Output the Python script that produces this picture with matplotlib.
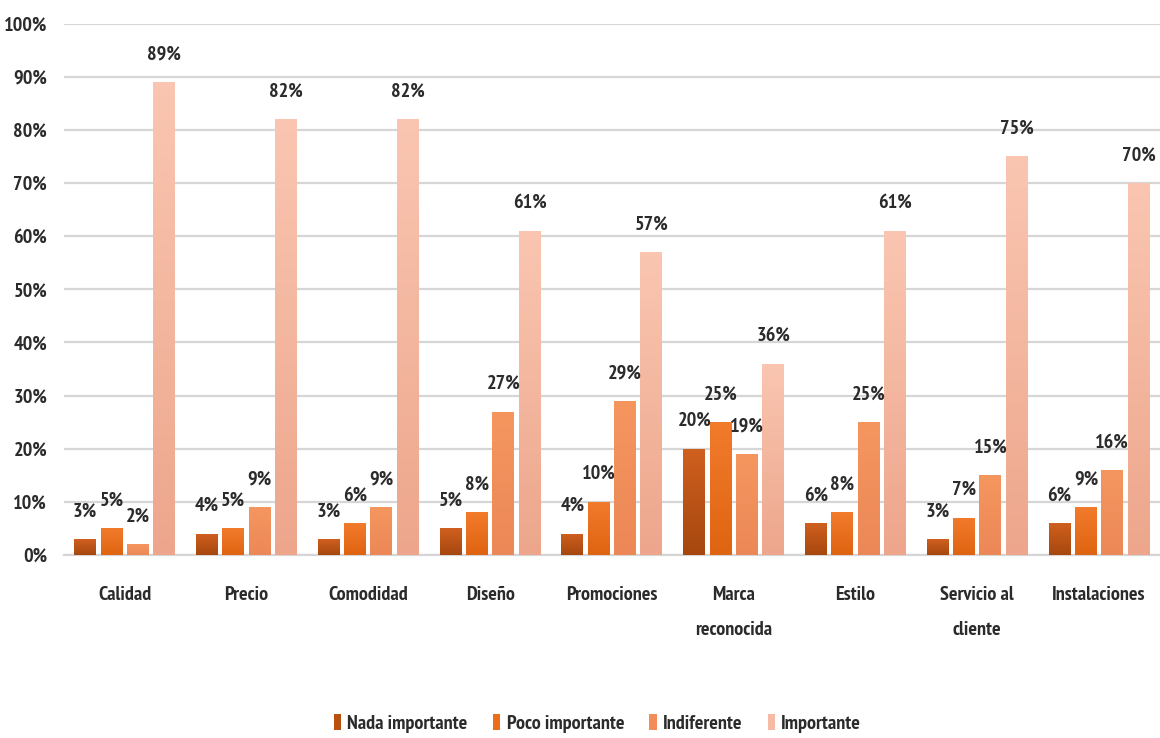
import numpy as np
import matplotlib
matplotlib.use("Agg")
import matplotlib.pyplot as plt
from matplotlib import font_manager
from matplotlib.colors import LinearSegmentedColormap

categories = ["Calidad", "Precio", "Comodidad", "Diseño", "Promociones",
              "Marca\nreconocida", "Estilo", "Servicio al\ncliente", "Instalaciones"]
series_names = ["Nada importante", "Poco importante", "Indiferente", "Importante"]
nada_importante = [3, 4, 3, 5, 4, 20, 6, 3, 6]
poco_importante = [5, 5, 6, 8, 10, 25, 8, 7, 9]
indiferente = [2, 9, 9, 27, 29, 19, 25, 15, 16]
importante = [89, 82, 82, 61, 57, 36, 61, 75, 70]
yticks = [0, 10, 20, 30, 40, 50, 60, 70, 80, 90, 100]

series_values = [nada_importante, poco_importante, indiferente, importante]
# (top colour, bottom colour) for each series' vertical shading
shades = [("#D0601F", "#A6470F"),
          ("#F27B2C", "#DF6411"),
          ("#F5965F", "#EC8857"),
          ("#FAC6B1", "#EDA68C")]
legend_colors = ["#B9500F", "#EC6E1A", "#F28C5A", "#F6BBA4"]

# pick a narrow bold sans family
bold_fams = {f.name for f in font_manager.fontManager.ttflist if f.weight >= 600}
preferred = ["PT Sans Narrow", "Open Sans Condensed", "Roboto Condensed",
             "Fira Sans Condensed", "Barlow Semi Condensed", "Archivo Narrow",
             "Encode Sans Semi Condensed", "Saira SemiCondensed"]
family = next((f for f in preferred if f in bold_fams), "DejaVu Sans")
plt.rcParams["font.family"] = [family, "DejaVu Sans"]
text_color = "#2B2B2B"
fs = 14.5 if family != "DejaVu Sans" else 11.5

fig = plt.figure(figsize=(11.6, 7.38), dpi=100)
ax = fig.add_axes([0.055, 0.248, 0.945, 0.72])

x = np.arange(len(categories))
step = 0.216
width = 0.18
offsets = (np.arange(4) - 1.5) * step

for i, vals in enumerate(series_values):
    bars = ax.bar(x + offsets[i], vals, width, color=legend_colors[i],
                  label=series_names[i], zorder=3)
    cmap = LinearSegmentedColormap.from_list(f"s{i}", [shades[i][1], shades[i][0]])
    grad = np.linspace(0, 1, 256).reshape(-1, 1)
    for b, v in zip(bars, vals):
        x0, y0 = b.get_x(), b.get_y()
        w, h = b.get_width(), b.get_height()
        im = ax.imshow(grad, cmap=cmap, origin="lower", aspect="auto",
                       extent=[x0, x0 + w, y0, y0 + h], zorder=3.5,
                       interpolation="bilinear")
        im.set_clip_path(b)
        ax.text(x0 + w / 2, v + 5.2, f"{v}%", ha="center", va="center",
                fontsize=fs, fontweight="bold", color=text_color, zorder=5)

ax.set_xlim(-0.5, len(categories) - 0.5)
ax.set_ylim(0, 100)
ax.set_yticks(yticks)
ax.set_yticklabels([f"{t}%" for t in yticks], fontsize=fs, fontweight="bold",
                   color=text_color)
ax.set_xticks(x)
ax.set_xticklabels(categories, fontsize=fs, fontweight="bold", color=text_color,
                   linespacing=2.25, va="top")
ax.tick_params(axis="both", length=0)
ax.tick_params(axis="x", pad=22)
ax.tick_params(axis="y", pad=12)
ax.grid(axis="y", color="#D6D6D6", linewidth=1.6, zorder=0)
ax.set_axisbelow(True)
for s in ["top", "right", "left"]:
    ax.spines[s].set_visible(False)
ax.spines["bottom"].set_color("#D6D6D6")
ax.spines["bottom"].set_linewidth(1.6)

handles, labels = ax.get_legend_handles_labels()
leg = fig.legend(handles, labels, loc="center", bbox_to_anchor=(0.515, 0.02), ncol=4,
                 frameon=False, handlelength=0.38, handleheight=0.85,
                 handletextpad=0.3, columnspacing=1.25,
                 prop={"size": fs, "weight": "bold"})
for t in leg.get_texts():
    t.set_color(text_color)

fig.savefig("out.png", dpi=100, facecolor="white")
